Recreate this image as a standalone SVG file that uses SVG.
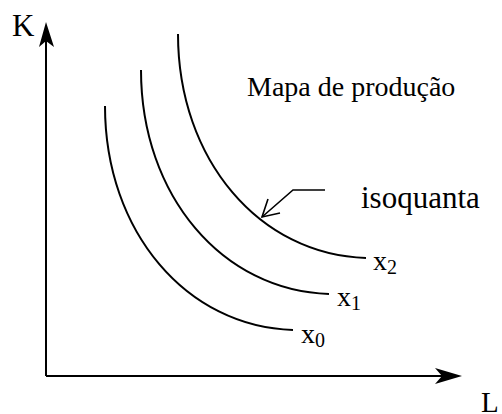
<svg xmlns="http://www.w3.org/2000/svg" width="502" height="414" viewBox="0 0 502 414">
<style>
.t{font-family:"Liberation Serif","Times New Roman",serif;fill:#000}
.ln{fill:none;stroke:#000;stroke-width:2}
.thin{fill:none;stroke:#000;stroke-width:1.6}
</style>
<defs>
<path id="iso" d="M178,34 C178,160 260,255 366,258"/>
</defs>
<rect width="502" height="414" fill="#fff"/>
<g id="axes">
<line class="ln" x1="46" y1="376" x2="46" y2="40"/>
<path d="M46,22 L54,47 L46,41 L39,47 Z" fill="#000"/>
<line class="ln" x1="46" y1="376" x2="444" y2="376"/>
<path d="M462,376 L435,368 L442,376 L435,384 Z" fill="#000"/>
<text class="t" x="12" y="36" font-size="31">K</text>
<text class="t" x="481" y="412" font-size="29">L</text>
</g>
<g id="curves">
<use href="#iso" class="ln"/>
<use href="#iso" class="ln" transform="translate(-37,36)"/>
<use href="#iso" class="ln" transform="translate(-73,72)"/>
</g>
<g id="labels">
<text class="t" x="373" y="270" font-size="28">x<tspan font-size="20" dy="4">2</tspan></text>
<text class="t" x="337" y="306" font-size="28">x<tspan font-size="20" dy="4">1</tspan></text>
<text class="t" x="301" y="343" font-size="28">x<tspan font-size="20" dy="4">0</tspan></text>
<text class="t" x="247" y="96" font-size="28">Mapa de produção</text>
</g>
<g id="connectors">
<polyline class="thin" points="325,190 293,190 262,217"/>
<polyline class="thin" points="268,199 262,217 280,213"/>
</g>
<g id="isoquanta">
<text class="t" x="361" y="208" font-size="31">isoquanta</text>
</g>
</svg>
